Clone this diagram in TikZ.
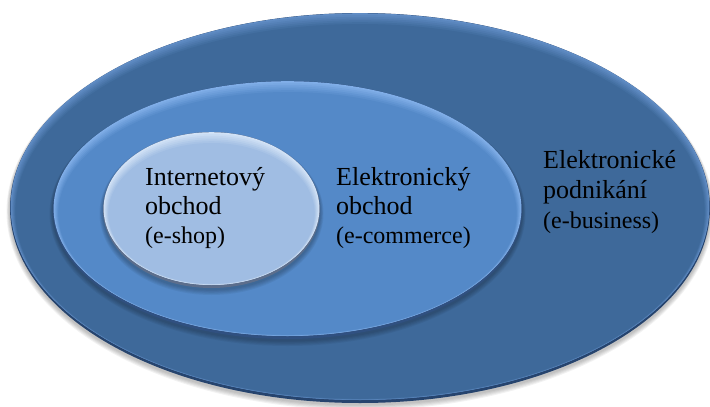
\documentclass[tikz,border=0pt]{standalone}
\usepackage{fontspec}
\setmainfont{Liberation Serif}
\newfontfamily\tnrfont{Liberation Serif}
\definecolor{outerbase}{RGB}{62,105,154}
\definecolor{outerlight}{RGB}{96,140,196}
\definecolor{outerdark}{RGB}{38,68,110}
\definecolor{midbase}{RGB}{84,137,200}
\definecolor{midlight}{RGB}{128,174,232}
\definecolor{middark}{RGB}{48,80,128}
\definecolor{innbase}{RGB}{160,189,227}
\definecolor{innlight}{RGB}{210,226,246}
\definecolor{inndark}{RGB}{92,110,140}
\newcommand\bevelell[7]{%
  \foreach \s in {1,...,5}{
    \fill[black,opacity=0.05] (#1,{#2+1.5+0.4*\s}) ellipse [x radius={(#3+0.7*\s)*1pt}, y radius={(#4+0.7*\s)*1pt}];
  }
  \fill[#7] (#1,#2) ellipse [x radius={(#3)*1pt}, y radius={(#4)*1pt}];
  \fill[#6] (#1,{#2-1.4}) ellipse [x radius={(#3-0.6)*1pt}, y radius={(#4-1.6)*1pt}];
  \foreach \k in {1,...,6}{
    \pgfmathtruncatemacro\mixp{100-100*\k/6}
    \fill[#6!\mixp!#5] (#1,{#2-1.4+0.8*\k}) ellipse [x radius={(#3-0.6-0.8*\k)*1pt}, y radius={(#4-1.6-\k)*1pt}];
  }
}
\tikzset{
  bigtxt/.style={anchor=base west, inner sep=0pt, text=black, font=\tnrfont\fontsize{26}{29}\selectfont},
  smalltxt/.style={anchor=base west, inner sep=0pt, text=black, font=\tnrfont\fontsize{24}{28}\selectfont}
}
\begin{document}
\begin{tikzpicture}[x=1pt,y=-1pt]
  \useasboundingbox (0,0) rectangle (710,407);
  \fill[white] (0,0) rectangle (710,407);
  \bevelell{360}{208}{350}{195}{outerbase}{outerlight}{outerdark}
  \bevelell{287.5}{210}{234.5}{129}{midbase}{midlight}{middark}
  \bevelell{211.5}{210}{108.5}{78}{innbase}{innlight}{inndark}
  % inner labels
  \node[bigtxt] (i1) at (145,185) {Internetový};
  \node[bigtxt] (i2) at (145,214) {obchod};
  \node[smalltxt] (i3) at (145,243) {(e-shop)};
  % middle labels
  \node[bigtxt] (m1) at (336,185) {Elektronický};
  \node[bigtxt] (m2) at (336,214) {obchod};
  \node[smalltxt] (m3) at (336,243) {(e-commerce)};
  % outer labels
  \node[bigtxt] (o1) at (543,168) {Elektronické};
  \node[bigtxt] (o2) at (543,198) {podnikání};
  \node[smalltxt] (o3) at (543,228) {(e-business)};
\end{tikzpicture}
\end{document}
